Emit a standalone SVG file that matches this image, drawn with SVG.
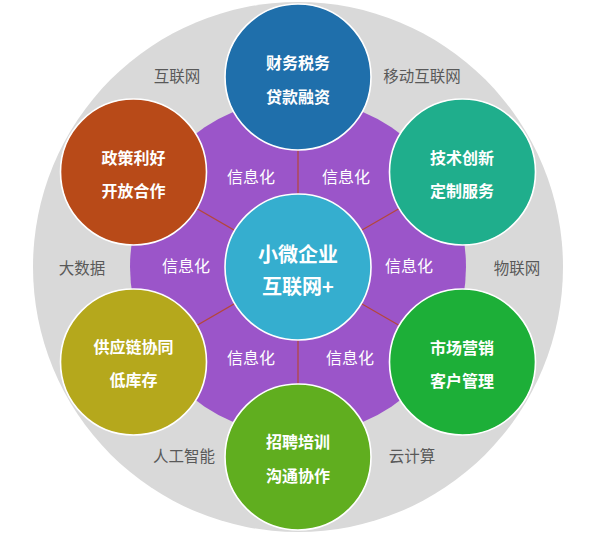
<svg xmlns="http://www.w3.org/2000/svg" width="592" height="534" viewBox="0 0 592 534">
<style>
.node{stroke:#ffffff;stroke-width:1.6}
.t{font-family:"Noto Sans CJK SC","Noto Sans",sans-serif;font-weight:bold;fill:#ffffff;font-size:16px;text-anchor:middle;dominant-baseline:central}
.big{font-size:20px}
.info{font-family:"Noto Sans CJK SC","Noto Sans",sans-serif;fill:#ffffff;font-size:16px;text-anchor:middle;dominant-baseline:central}
.lab{font-family:"Noto Sans CJK SC","Noto Sans",sans-serif;fill:#595959;font-size:15.5px;text-anchor:middle;dominant-baseline:central}
.conn{stroke:#b5473a;stroke-width:1.2;fill:none}
</style>
<g id="background">
<circle cx="298" cy="267" r="265" fill="#d9d9d9"/>
<circle cx="298" cy="267" r="168" fill="#9b55c9"/>
</g>
<g id="outer-labels">
<text class="lab" x="177" y="75">互联网</text>
<text class="lab" x="422" y="75">移动互联网</text>
<text class="lab" x="82" y="267">大数据</text>
<text class="lab" x="517" y="267">物联网</text>
<text class="lab" x="184" y="455">人工智能</text>
<text class="lab" x="412" y="455">云计算</text>
</g>
<g id="connectors">
<line class="conn" x1="298" y1="267" x2="298" y2="77"/>
<line class="conn" x1="298" y1="267" x2="462.5" y2="172"/>
<line class="conn" x1="298" y1="267" x2="462.5" y2="362"/>
<line class="conn" x1="298" y1="267" x2="298" y2="457"/>
<line class="conn" x1="298" y1="267" x2="133.5" y2="362"/>
<line class="conn" x1="298" y1="267" x2="133.5" y2="172"/>
</g>
<g id="info-labels">
<text class="info" x="251" y="176">信息化</text>
<text class="info" x="346" y="176">信息化</text>
<text class="info" x="186" y="265">信息化</text>
<text class="info" x="409" y="265">信息化</text>
<text class="info" x="251" y="357">信息化</text>
<text class="info" x="350" y="357">信息化</text>
</g>
<g id="node-center">
<circle class="node" cx="298" cy="267" r="73" fill="#35aecf"/>
<text class="t big" x="298" y="253">小微企业</text>
<text class="t big" x="298" y="285">互联网+</text>
</g>
<g id="node-finance">
<circle class="node" cx="298" cy="77" r="73" fill="#1f6fab"/>
<text class="t" x="298" y="62">财务税务</text>
<text class="t" x="298" y="96">贷款融资</text>
</g>
<g id="node-tech">
<circle class="node" cx="462.5" cy="172" r="73" fill="#1fae8c"/>
<text class="t" x="462" y="157">技术创新</text>
<text class="t" x="462" y="190">定制服务</text>
</g>
<g id="node-market">
<circle class="node" cx="462.5" cy="362" r="73" fill="#1daf38"/>
<text class="t" x="462" y="347">市场营销</text>
<text class="t" x="462" y="380">客户管理</text>
</g>
<g id="node-hr">
<circle class="node" cx="298" cy="457" r="73" fill="#60ae1f"/>
<text class="t" x="298" y="441">招聘培训</text>
<text class="t" x="298" y="475">沟通协作</text>
</g>
<g id="node-supply">
<circle class="node" cx="133.5" cy="362" r="73" fill="#b5a81c"/>
<text class="t" x="133.5" y="346">供应链协同</text>
<text class="t" x="133.5" y="379">低库存</text>
</g>
<g id="node-policy">
<circle class="node" cx="133.5" cy="172" r="73" fill="#b84a18"/>
<text class="t" x="133.5" y="157">政策利好</text>
<text class="t" x="133.5" y="190">开放合作</text>
</g>
</svg>
